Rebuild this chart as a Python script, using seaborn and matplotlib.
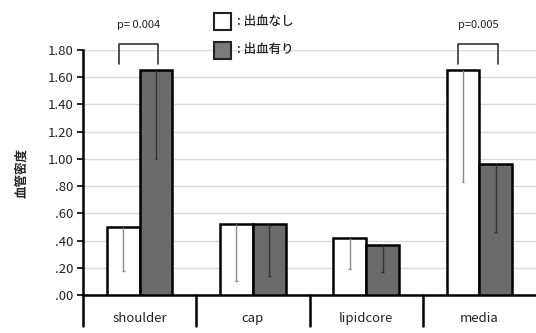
import matplotlib
matplotlib.use("Agg")
import matplotlib.pyplot as plt
import matplotlib.transforms as mtransforms
from matplotlib.patches import Rectangle
import seaborn as sns
import pandas as pd
import numpy as np

# ---- data ----
categories = ["shoulder", "cap", "lipidcore", "media"]
groups = ["出血なし", "出血有り"]
no_bleed = [0.50, 0.52, 0.42, 1.65]
bleed = [1.65, 0.52, 0.37, 0.96]
no_bleed_lower = [0.18, 0.10, 0.19, 0.83]
bleed_lower = [1.00, 0.14, 0.17, 0.46]
yticks = [0.0, 0.2, 0.4, 0.6, 0.8, 1.0, 1.2, 1.4, 1.6, 1.8]
ytick_labels = [".00", ".20", ".40", ".60", ".80", "1.00", "1.20", "1.40", "1.60", "1.80"]
pvalues = [("p= 0.004", 0), ("p=0.005", 3)]

sns.set_theme(style="white")
plt.rcParams["font.family"] = ["Noto Sans CJK JP", "DejaVu Sans"]

df = pd.DataFrame({
    "category": categories * 2,
    "group": [groups[0]] * 4 + [groups[1]] * 4,
    "value": no_bleed + bleed,
})

fig = plt.figure(figsize=(5.36, 3.33), dpi=100)
ax = fig.add_axes([83 / 536, 1 - 295 / 333, 453 / 536, 245 / 333])

palette = {groups[0]: "#ffffff", groups[1]: "#6b6b6b"}
sns.barplot(data=df, x="category", y="value", hue="group", order=categories,
            hue_order=groups, palette=palette, errorbar=None, width=0.58,
            edgecolor="black", linewidth=1.8, legend=False, ax=ax, zorder=3)

# error bars (downward only)
n = len(categories)
patches = ax.patches[:2 * n]
lowers = no_bleed_lower + bleed_lower
tops = no_bleed + bleed
for i, p in enumerate(patches):
    cx = p.get_x() + p.get_width() / 2
    col = "#8a8a8a" if i < n else "#333333"
    ax.vlines(cx, lowers[i], tops[i], color=col, linewidth=1.0, zorder=4)
    ax.hlines(lowers[i], cx - 0.012, cx + 0.012, color=col, linewidth=1.0, zorder=4)

ax.set_xlim(-0.5, n - 0.5)
ax.set_ylim(0, 1.8)
ax.set_yticks(yticks)
ax.set_yticklabels(ytick_labels, fontsize=9.5, color="#222222")
ax.yaxis.grid(True, color="#d9d9d9", linewidth=1.0, zorder=0)
ax.set_axisbelow(True)
ax.set_xlabel("")
ax.set_ylabel("血管密度", fontsize=9, fontweight="bold", labelpad=14, color="#222222")
ax.tick_params(axis="y", direction="out", length=4, width=1.2, color="black", left=True, pad=3)
ax.tick_params(axis="x", length=0, pad=12, labelsize=9.5, colors="#222222")
for s in ["top", "right"]:
    ax.spines[s].set_visible(False)
ax.spines["left"].set_linewidth(1.8)
ax.spines["left"].set_color("black")
ax.spines["bottom"].set_linewidth(1.8)
ax.spines["bottom"].set_color("black")

# category separators below the axis
trans = mtransforms.blended_transform_factory(ax.transData, ax.transAxes)
for b in np.arange(-0.5, n - 0.5, 1.0):
    ax.plot([b, b], [0, -0.125], transform=trans, color="black",
            linewidth=1.8, clip_on=False, zorder=5)

# significance brackets
for text, ci in pvalues:
    x1 = patches[ci].get_x() + patches[ci].get_width() / 2 - 0.04
    x2 = patches[n + ci].get_x() + patches[n + ci].get_width() / 2 + 0.02
    ybot, ytop = 1.70, 1.845
    ax.plot([x1, x1, x2, x2], [ybot, ytop, ytop, ybot], color="#333333",
            linewidth=1.2, clip_on=False, zorder=5)
    ax.text((x1 + x2) / 2, 1.98, text, ha="center", va="center",
            fontsize=8, color="#222222", clip_on=False)

# legend (manual squares + text)
leg_items = [(groups[0], "#ffffff", 21), (groups[1], "#7a7a7a", 50)]
for label, col, yc in leg_items:
    fig.patches.append(Rectangle((214 / 536, 1 - (yc + 8.5) / 333), 17 / 536, 17 / 333,
                                 transform=fig.transFigure, facecolor=col,
                                 edgecolor="#222222", linewidth=1.5, zorder=6))
    fig.text(237 / 536, 1 - yc / 333, ": " + label, ha="left", va="center",
             fontsize=9, fontweight="medium", color="#222222")

fig.savefig("out.png", dpi=100)
